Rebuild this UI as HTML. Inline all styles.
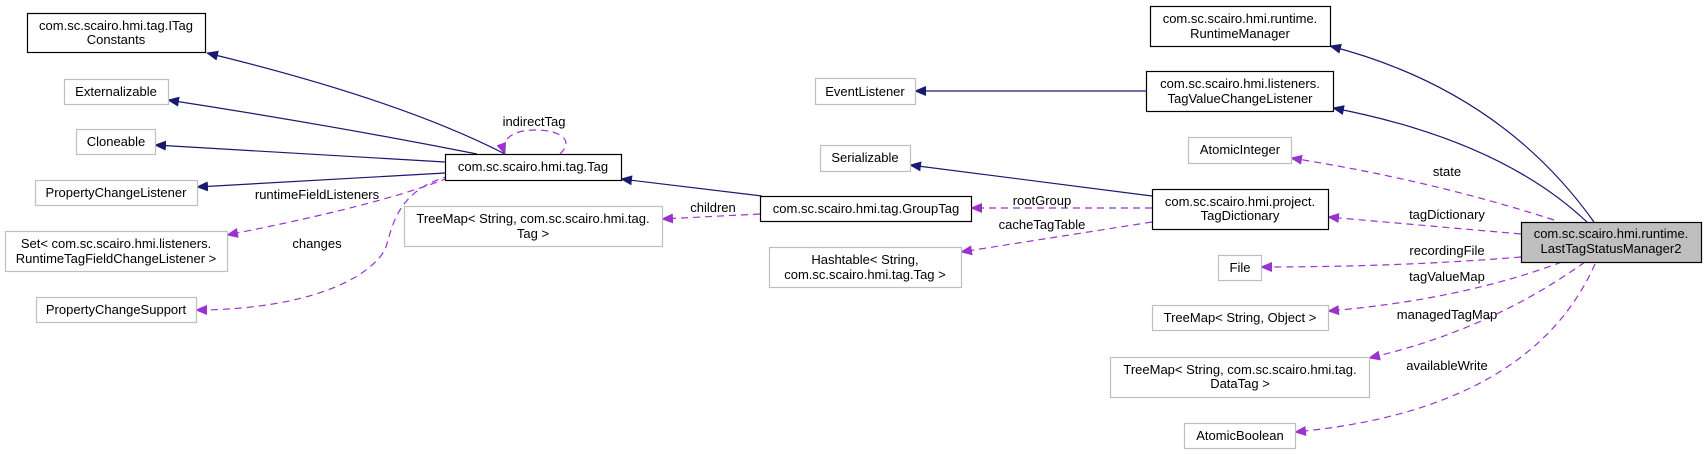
<!DOCTYPE html>
<html><head><meta charset="utf-8"><style>
html,body{margin:0;padding:0;background:#fff;}
svg{display:block;font-family:"Liberation Sans",Arial,sans-serif;font-size:13px;}
</style></head><body>
<svg width="1707" height="454" viewBox="0 0 1707 454" xmlns="http://www.w3.org/2000/svg">
<defs>
<marker id="n" markerWidth="12" markerHeight="10" refX="11" refY="5" orient="auto" markerUnits="userSpaceOnUse"><path d="M0,0 L12,5 L0,10 z" fill="#191970"/></marker>
<marker id="p" markerWidth="12" markerHeight="10" refX="11" refY="5" orient="auto" markerUnits="userSpaceOnUse"><path d="M0,0 L12,5 L0,10 z" fill="#9a32cd"/></marker>
</defs>
<g fill="none" stroke="#191970" stroke-width="1.2" marker-end="url(#n)">
<path d="M505,154 Q400,100 207,53"/>
<path d="M477,154 Q330,125 168,100"/>
<path d="M445,162 L155,145"/>
<path d="M445,173 L197,187"/>
<path d="M762,196 L621,179"/>
<path d="M1152,196 L910,165"/>
<path d="M1146,91 L915,91"/>
<path d="M1594,222 Q1500,90 1330,46"/>
<path d="M1587,222 Q1500,140 1333,108"/>
</g>
<g fill="none" stroke="#9a32cd" stroke-width="1.2" stroke-dasharray="7,5" marker-end="url(#p)">
<path d="M560,154 C575,140 560,130 535,130 C512,130 500,140 505,154"/>
<path d="M448,178 Q380,205 227,235"/>
<path d="M450,176 C395,190 392,230 385,250 C360,290 280,310 196,310"/>
<path d="M760,214 L662,219"/>
<path d="M1152,208 L971,208"/>
<path d="M1152,222 L961,252"/>
<path d="M1554,220 Q1430,180 1291,158"/>
<path d="M1521,234 L1328,217"/>
<path d="M1521,257 Q1400,267 1261,267"/>
<path d="M1562,262 Q1460,300 1328,311"/>
<path d="M1585,262 Q1490,330 1369,358"/>
<path d="M1595,264 Q1530,410 1295,432"/>
</g>
<g stroke-width="1.2">
<rect x="27.5" y="13.5" width="178" height="39" fill="#fff" stroke="#000"/>
<rect x="64.5" y="79.5" width="104" height="25" fill="#fff" stroke="#bfbfbf"/>
<rect x="76.5" y="129.5" width="79" height="25" fill="#fff" stroke="#bfbfbf"/>
<rect x="35.5" y="180.5" width="162" height="25" fill="#fff" stroke="#bfbfbf"/>
<rect x="5.5" y="231.5" width="222" height="40" fill="#fff" stroke="#bfbfbf"/>
<rect x="36.5" y="297.5" width="160" height="25" fill="#fff" stroke="#bfbfbf"/>
<rect x="445.5" y="154.5" width="176" height="26" fill="#fff" stroke="#000"/>
<rect x="404.5" y="206.5" width="258" height="40" fill="#fff" stroke="#bfbfbf"/>
<rect x="760.5" y="196.5" width="211" height="25" fill="#fff" stroke="#000"/>
<rect x="815.5" y="78.5" width="100" height="26" fill="#fff" stroke="#bfbfbf"/>
<rect x="820.5" y="145.5" width="90" height="26" fill="#fff" stroke="#bfbfbf"/>
<rect x="769.5" y="247.5" width="192" height="40" fill="#fff" stroke="#bfbfbf"/>
<rect x="1150.5" y="6.5" width="180" height="40" fill="#fff" stroke="#000"/>
<rect x="1146.5" y="71.5" width="187" height="40" fill="#fff" stroke="#000"/>
<rect x="1188.5" y="137.5" width="103" height="26" fill="#fff" stroke="#bfbfbf"/>
<rect x="1152.5" y="189.5" width="176" height="40" fill="#fff" stroke="#000"/>
<rect x="1218.5" y="255.5" width="43" height="25" fill="#fff" stroke="#bfbfbf"/>
<rect x="1152.5" y="305.5" width="176" height="25" fill="#fff" stroke="#bfbfbf"/>
<rect x="1110.5" y="357.5" width="259" height="40" fill="#fff" stroke="#bfbfbf"/>
<rect x="1184.5" y="423.5" width="111" height="25" fill="#fff" stroke="#bfbfbf"/>
<rect x="1521.5" y="222.5" width="180" height="40" fill="#bfbfbf" stroke="#000"/>
</g>
<g fill="#000" text-anchor="middle">
<text x="116" y="30">com.sc.scairo.hmi.tag.ITag</text><text x="116" y="44">Constants</text>
<text x="116" y="96">Externalizable</text>
<text x="116" y="146">Cloneable</text>
<text x="116" y="197">PropertyChangeListener</text>
<text x="116" y="248">Set&lt; com.sc.scairo.hmi.listeners.</text><text x="116" y="263">RuntimeTagFieldChangeListener &gt;</text>
<text x="116" y="314">PropertyChangeSupport</text>
<text x="533" y="171">com.sc.scairo.hmi.tag.Tag</text>
<text x="533" y="223">TreeMap&lt; String, com.sc.scairo.hmi.tag.</text><text x="533" y="238">Tag &gt;</text>
<text x="866" y="213">com.sc.scairo.hmi.tag.GroupTag</text>
<text x="865" y="96">EventListener</text>
<text x="865" y="162">Serializable</text>
<text x="865" y="264">Hashtable&lt; String,</text><text x="865" y="279">com.sc.scairo.hmi.tag.Tag &gt;</text>
<text x="1240" y="23">com.sc.scairo.hmi.runtime.</text><text x="1240" y="38">RuntimeManager</text>
<text x="1240" y="88">com.sc.scairo.hmi.listeners.</text><text x="1240" y="103">TagValueChangeListener</text>
<text x="1240" y="154">AtomicInteger</text>
<text x="1240" y="206">com.sc.scairo.hmi.project.</text><text x="1240" y="220">TagDictionary</text>
<text x="1240" y="272">File</text>
<text x="1240" y="322">TreeMap&lt; String, Object &gt;</text>
<text x="1240" y="374">TreeMap&lt; String, com.sc.scairo.hmi.tag.</text><text x="1240" y="388">DataTag &gt;</text>
<text x="1240" y="440">AtomicBoolean</text>
<text x="1611" y="238">com.sc.scairo.hmi.runtime.</text><text x="1611" y="253">LastTagStatusManager2</text>
<text x="534" y="126">indirectTag</text>
<text x="317" y="199">runtimeFieldListeners</text>
<text x="317" y="248">changes</text>
<text x="713" y="212">children</text>
<text x="1042" y="205">rootGroup</text>
<text x="1042" y="229">cacheTagTable</text>
<text x="1447" y="176">state</text>
<text x="1447" y="219">tagDictionary</text>
<text x="1447" y="255">recordingFile</text>
<text x="1447" y="281">tagValueMap</text>
<text x="1447" y="319">managedTagMap</text>
<text x="1447" y="370">availableWrite</text>
</g>
</svg>
</body></html>
